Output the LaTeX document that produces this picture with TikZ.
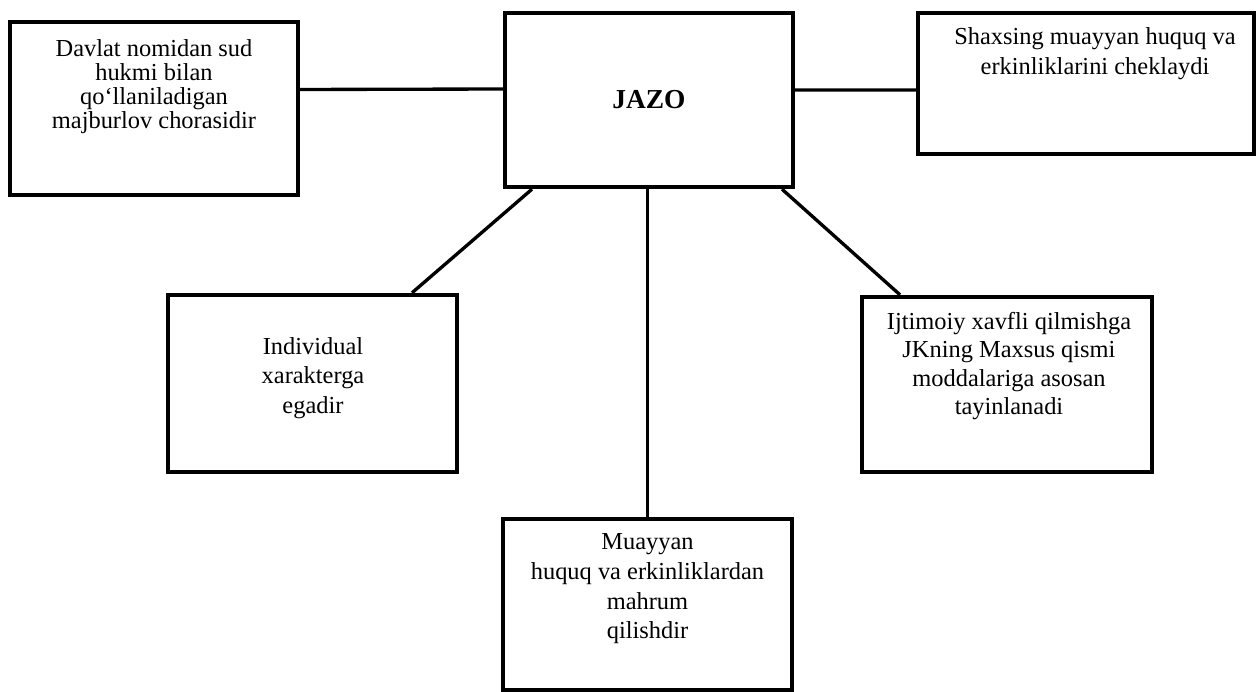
\documentclass[tikz,border=0pt]{standalone}
\usepackage{fontspec}
\setmainfont{Liberation Serif}
\usetikzlibrary{calc}

\begin{document}
\begin{tikzpicture}[x=0.02cm,y=-0.02cm,
  box/.style={draw,line width=2.5pt,inner sep=0pt},
  txt/.style={align=center,inner sep=0pt,font=\fontsize{13.9pt}{#1}\selectfont},
  link/.style={line width=1.9pt}]
  \useasboundingbox (0,0) rectangle (1258,692);
  \node[box,minimum width=5.76cm,minimum height=3.46cm] (tl) at (154,108.5) {};
  \node[box,minimum width=5.76cm,minimum height=3.48cm,
    font=\fontsize{15.6pt}{18pt}\selectfont\bfseries] (jazo) at (649,100) {JAZO};
  \node[box,minimum width=6.72cm,minimum height=2.82cm] (tr) at (1086,83.5) {};
  \node[box,minimum width=5.78cm,minimum height=3.54cm] (lm) at (312.5,383.5) {};
  \node[box,minimum width=5.80cm,minimum height=3.50cm] (rm) at (1007,384.5) {};
  \node[box,minimum width=5.78cm,minimum height=3.42cm] (bot) at (647.5,604.5) {};
  \node[txt=13.7pt] (tltxt) at (154,87)
    {Davlat nomidan sud\\hukmi bilan\\qo‘llaniladigan\\majburlov chorasidir};
  \node[txt=17.1pt] (trtxt) at (1095,54)
    {Shaxsing muayyan huquq va\\erkinliklarini cheklaydi};
  \node[txt=16.8pt] (lmtxt) at (313,378)
    {Individual\\xarakterga\\egadir};
  \node[txt=16.2pt] (rmtxt) at (1009,366)
    {Ijtimoiy xavfli qilmishga\\JKning Maxsus qismi\\moddalariga asosan\\tayinlanadi};
  \node[txt=16.9pt] (bottxt) at (647.5,589)
    {Muayyan\\huquq va erkinliklardan\\mahrum\\qilishdir};
  \draw[link] ($(tl.east)+(0,-19)$) -- ($(jazo.west)+(0,-11)$);
  \draw[link] ($(jazo.east)+(0,-10)$) -- ($(tr.west)+(0,6.5)$);
  \draw[link] ($(jazo.south)+(-117,0)$) -- ($(lm.north)+(99.5,0)$);
  \draw[link] (jazo.south -| bot.north) -- (bot.north);
  \draw[link] ($(jazo.south)+(133,0)$) -- ($(rm.north)+(-107,0)$);
\end{tikzpicture}
\end{document}
